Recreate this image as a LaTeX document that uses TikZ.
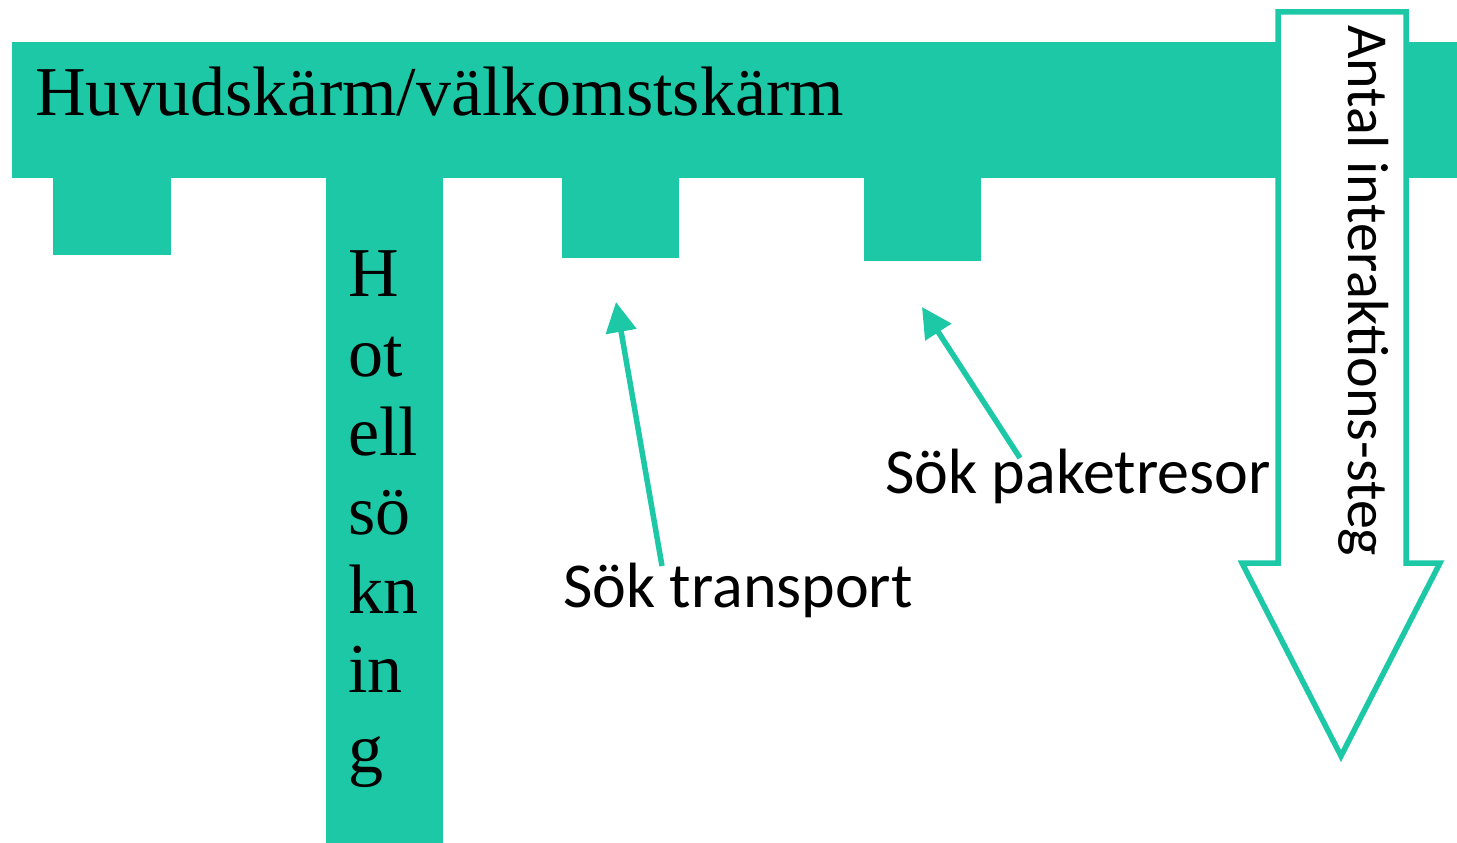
\documentclass[tikz,border=0pt]{standalone}
\usepackage{fontspec}
\setmainfont{Liberation Serif}
\newfontfamily\calib{Carlito}
\usetikzlibrary{arrows.meta}
\definecolor{teal1}{RGB}{29,200,166}
\begin{document}
\begin{tikzpicture}[x=1pt,y=-1pt,
  bar/.style={fill=teal1},
  lbl/.style={inner sep=0pt,anchor=base west,font=\calib\fontsize{64}{70}\selectfont},
  pointer/.style={draw=teal1,line width=5.5pt,-{Triangle[length=30pt,width=30pt]}},
  bigarrow/.style={draw=teal1,fill=white,line width=5.5pt,line join=miter}]
\useasboundingbox (0,0) rectangle (1457,843);
% main screen bar and its sub-screens
\fill[bar] (12,42) rectangle (1457,178);
\fill[bar] (53,178) rectangle (171,255);
\fill[bar] (326,178) rectangle (443,843);
\fill[bar] (562,178) rectangle (679,258);
\fill[bar] (864,178) rectangle (981,261);
\node[inner sep=0pt,anchor=base west,font=\fontsize{70}{80}\selectfont] (home) at (35,115) {Huvudskärm/välkomstskärm};
% multi-line node: base anchor sits on the last line
\node[inner sep=0pt,anchor=base west,align=left,font=\fontsize{70}{79.2}\selectfont] (hotel) at (348,772) {H\\ot\\ell\\sö\\kn\\in\\g};
% labels with pointers
\node[lbl] (transport) at (563,607) {Sök transport};
\node[lbl] (paket) at (885,493) {Sök paketresor};
\coordinate (tA) at (616,302);
\coordinate (tB) at (922,307);
\coordinate (sA) at (662,566);
\coordinate (sB) at (1020,458);
\draw[pointer] (sA) -- (tA);
\draw[pointer] (sB) -- (tB);
% downward arrow for interaction steps
\draw[bigarrow] (1278,12) -- (1406,12) -- (1406,563) -- (1440,563) -- (1341,756) -- (1242,563) -- (1278,563) -- cycle;
\node[inner sep=0pt,anchor=base west,rotate=-90,font=\calib\fontsize{58}{64}\selectfont] (steps) at (1348,25) {Antal interaktions-steg};
\end{tikzpicture}
\end{document}
